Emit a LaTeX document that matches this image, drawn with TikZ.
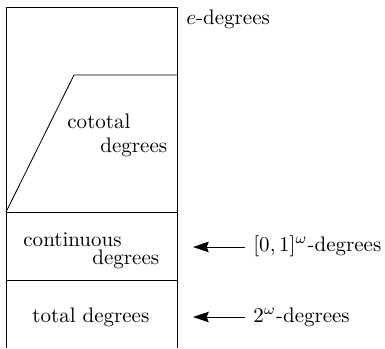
\documentclass[tikz,border=0pt]{standalone}
\usepackage{amsmath,amssymb}
\usetikzlibrary{positioning,arrows.meta}

\begin{document}
\begin{tikzpicture}[
  x=0.476pt, y=-0.476pt,
  lbl/.style={inner sep=0pt, anchor=base west},
  arr/.style={-{Stealth[length=7.5pt,width=5pt,inset=1pt]}}
]
\useasboundingbox (0,0) rectangle (385,348);

% the tower of degree structures
\draw (6,348) -- (6,7) -- (177,7) -- (177,348);
\draw (6,212) -- (177,212);
\draw (6,280) -- (177,280);
\draw (6,212) -- (74,75) -- (177,75);

\node[lbl] (cot1) at (67,128) {cototal};
\node[lbl] (cot2) at (100,152) {degrees};
\node[lbl] (con1) at (23,246) {continuous};
\node[lbl] (con2) at (92,264) {degrees};
\node[lbl] (tot) at (32,322) {total degrees};

% outside labels
\node[lbl] (edeg) at (186,24) {$e$-degrees};
\node[lbl] (cube) at (253,251) {$[0,1]^\omega$-degrees};
\node[lbl] (cantor) at (253,322) {$2^\omega$-degrees};

\coordinate (cubetip) at (193,247);
\coordinate (cantortip) at (193,317);
\draw[arr] (cube.west |- cubetip) ++(-8,0) -- (cubetip);
\draw[arr] (cantor.west |- cantortip) ++(-8,0) -- (cantortip);
\end{tikzpicture}
\end{document}
